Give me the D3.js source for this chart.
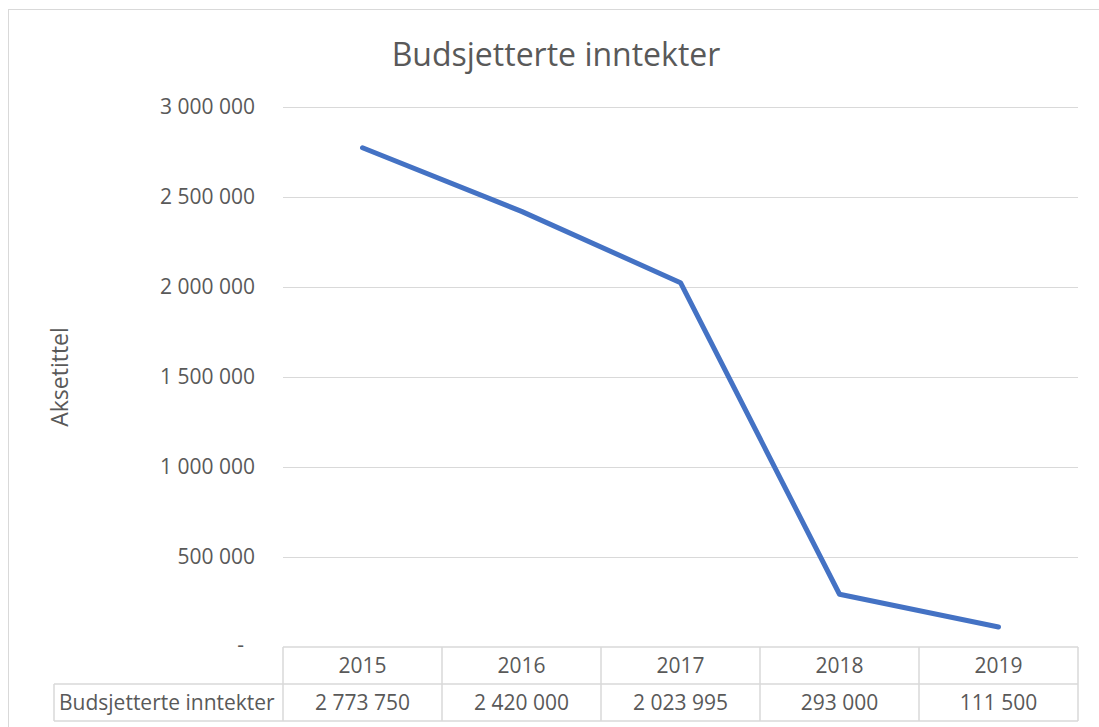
<!DOCTYPE html>
<html>
<head>
<meta charset="utf-8">
<script src="https://cdn.jsdelivr.net/npm/d3@7"></script>
<style>
  html, body { margin: 0; padding: 0; background: #fff; }
  svg text { font-family: "Open Sans", Lato, sans-serif; fill: #595959; }
</style>
</head>
<body>
<svg id="chart" width="1099" height="727"></svg>
<script>
// =====================================================
// Data
// =====================================================
const years      = ["2015", "2016", "2017", "2018", "2019"];
const values     = [2773750, 2420000, 2023995, 293000, 111500];
const yTicks     = [0, 500000, 1000000, 1500000, 2000000, 2500000, 3000000];
const seriesName = "Budsjetterte inntekter";
const chartTitle = "Budsjetterte inntekter";
const axisTitle  = "Aksetittel";

// =====================================================
// Layout
// =====================================================
const plot   = { left: 283, right: 1078, top: 107, bottom: 647 };
const rowH   = 37;
const tableL = 54;
const grey   = "#d9d9d9";

const nb  = d3.formatLocale({ decimal: ",", thousands: " ", grouping: [3], currency: ["", ""] });
const fmt = nb.format(",");

const svg = d3.select("#chart");

// outer chart border (runs off the right/bottom edges)
svg.append("rect")
  .attr("x", 8.5).attr("y", 9.5)
  .attr("width", 1110).attr("height", 740)
  .attr("fill", "none").attr("stroke", grey).attr("stroke-width", 1);

// ----------
// Scales
// =================
const x = d3.scaleBand()
  .domain(years)
  .range([plot.left, plot.right])
  .padding(0);

const y = d3.scaleLinear()
  .domain([0, 3000000])
  .range([plot.bottom, plot.top]);

// ----------
// Gridlines + Y labels
// =================
svg.append("g")
  .selectAll("line")
  .data(yTicks.filter(d => d > 0))
  .join("line")
  .attr("x1", plot.left).attr("x2", plot.right)
  .attr("y1", d => Math.round(y(d)) + 0.5)
  .attr("y2", d => Math.round(y(d)) + 0.5)
  .attr("stroke", grey).attr("stroke-width", 1);

svg.append("g")
  .selectAll("text")
  .data(yTicks)
  .join("text")
  .attr("x", d => d === 0 ? 244 : 255)
  .attr("y", d => d === 0 ? y(d) - 2 : y(d))
  .attr("dy", "0.35em")
  .attr("text-anchor", "end")
  .attr("font-size", 21)
  .text(d => d === 0 ? "-" : fmt(d));

// ----------
// Titles
// =================
svg.append("text")
  .attr("x", 556).attr("y", 66)
  .attr("text-anchor", "middle")
  .attr("font-size", 32)
  .text(chartTitle);

svg.append("text")
  .attr("transform", `translate(68, ${(plot.top + plot.bottom) / 2}) rotate(-90)`)
  .attr("text-anchor", "middle")
  .attr("font-size", 23)
  .text(axisTitle);

// ----------
// Data table
// =================
const table = svg.append("g").attr("stroke", grey).attr("stroke-width", 1.5).attr("fill", "none");
const tTop = plot.bottom, tMid = plot.bottom + rowH, tBot = plot.bottom + 2 * rowH;

table.append("line").attr("x1", plot.left).attr("x2", plot.right).attr("y1", tTop).attr("y2", tTop);
table.append("line").attr("x1", tableL).attr("x2", plot.right).attr("y1", tMid).attr("y2", tMid);
table.append("line").attr("x1", tableL).attr("x2", plot.right).attr("y1", tBot).attr("y2", tBot);
table.append("line").attr("x1", tableL).attr("x2", tableL).attr("y1", tMid).attr("y2", tBot);
table.selectAll(".vcol")
  .data(years)
  .join("line")
  .attr("x1", d => x(d)).attr("x2", d => x(d))
  .attr("y1", tTop).attr("y2", tBot);
table.append("line").attr("x1", plot.right).attr("x2", plot.right).attr("y1", tTop).attr("y2", tBot);

svg.append("g")
  .selectAll("text")
  .data(years)
  .join("text")
  .attr("x", d => x(d) + x.bandwidth() / 2)
  .attr("y", tTop + rowH / 2)
  .attr("dy", "0.35em")
  .attr("text-anchor", "middle")
  .attr("font-size", 21)
  .text(d => d);

svg.append("g")
  .selectAll("text")
  .data(values)
  .join("text")
  .attr("x", (d, i) => x(years[i]) + x.bandwidth() / 2)
  .attr("y", tMid + rowH / 2)
  .attr("dy", "0.35em")
  .attr("text-anchor", "middle")
  .attr("font-size", 21)
  .text(d => fmt(d));

svg.append("text")
  .attr("x", tableL + 5)
  .attr("y", tMid + rowH / 2)
  .attr("dy", "0.35em")
  .attr("font-size", 21)
  .text(seriesName);

// ----------
// Line
// =================
const line = d3.line()
  .x((d, i) => x(years[i]) + x.bandwidth() / 2)
  .y(d => y(d));

svg.append("path")
  .datum(values)
  .attr("fill", "none")
  .attr("stroke", "#4472C4")
  .attr("stroke-width", 5)
  .attr("stroke-linecap", "round")
  .attr("stroke-linejoin", "round")
  .attr("d", line);
</script>
</body>
</html>
